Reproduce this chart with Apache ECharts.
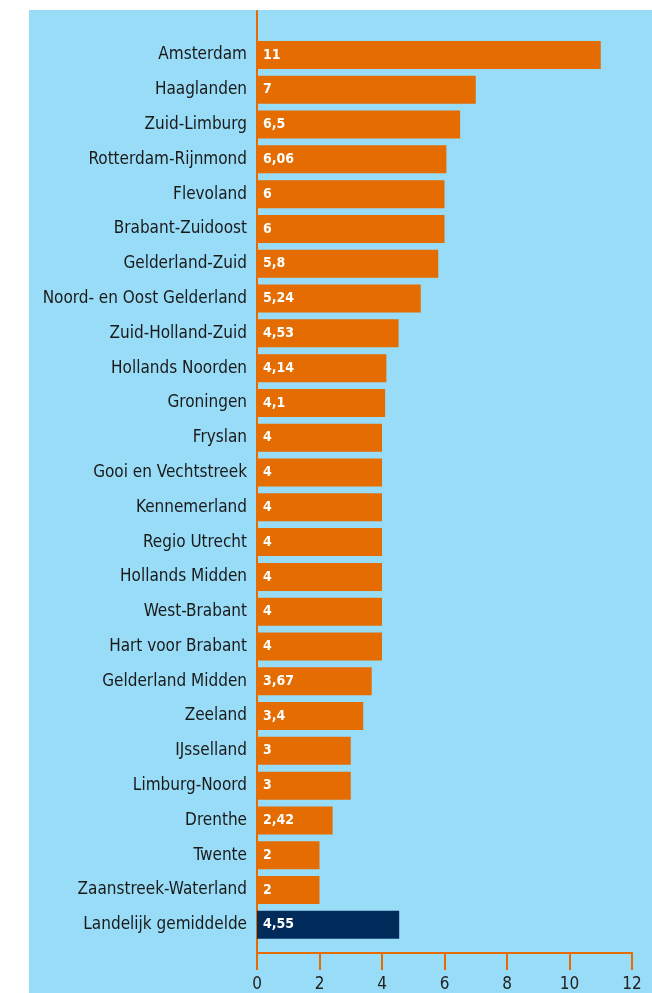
<!DOCTYPE html>
<html>
<head>
<meta charset="utf-8">
<script src="https://cdn.jsdelivr.net/npm/echarts@6/dist/echarts.min.js"></script>
<style>
html,body{margin:0;padding:0;background:#ffffff;width:652px;height:993px;overflow:hidden;}
#chart{position:absolute;left:29px;top:10px;width:623px;height:983px;}
</style>
</head>
<body>
<div id="chart"></div>
<script>
var categories = ["Amsterdam","Haaglanden","Zuid-Limburg","Rotterdam-Rijnmond","Flevoland","Brabant-Zuidoost","Gelderland-Zuid","Noord- en Oost Gelderland","Zuid-Holland-Zuid","Hollands Noorden","Groningen","Fryslan","Gooi en Vechtstreek","Kennemerland","Regio Utrecht","Hollands Midden","West-Brabant","Hart voor Brabant","Gelderland Midden","Zeeland","IJsselland","Limburg-Noord","Drenthe","Twente","Zaanstreek-Waterland","Landelijk gemiddelde"];
var values = [11,7,6.5,6.06,6,6,5.8,5.24,4.53,4.14,4.1,4,4,4,4,4,4,4,3.67,3.4,3,3,2.42,2,2,4.55];
var xTicks = [0,2,4,6,8,10,12];

var orange = '#E46C00';
var navy = '#002B5B';
var fontFam = '"DejaVu Sans Condensed", "DejaVu Sans", sans-serif';

var chart = echarts.init(document.getElementById('chart'));
var data = values.map(function(v, i){
  return i === values.length - 1 ? {value: v, itemStyle: {color: navy}} : v;
});
chart.setOption({
  backgroundColor: '#98DCF7',
  animation: false,
  grid: [
    {left: 228, right: 20, top: 27.6, bottom: 50.8},
    {left: 228, right: 20, top: 1, bottom: 40}
  ],
  xAxis: [
    {gridIndex: 0, type: 'value', min: 0, max: 12, interval: 2, show: false},
    {gridIndex: 1, type: 'value', min: xTicks[0], max: xTicks[xTicks.length-1], interval: 2,
     axisLine: {show: true, lineStyle: {color: orange, width: 2}},
     axisTick: {show: true, length: 17, lineStyle: {color: orange, width: 2}},
     axisLabel: {color: '#222', fontSize: 17, fontFamily: fontFam, margin: 23},
     splitLine: {show: false}}
  ],
  yAxis: [
    {gridIndex: 0, type: 'category', data: categories, inverse: true,
     axisLine: {show: false}, axisTick: {show: false},
     axisLabel: {color: '#1a1a1a', fontSize: 17, fontFamily: fontFam, margin: 10, padding: [4, 0, 0, 0]}},
    {gridIndex: 1, type: 'value', min: 0, max: 1,
     axisLine: {show: true, lineStyle: {color: orange, width: 2}},
     axisTick: {show: false}, axisLabel: {show: false}, splitLine: {show: false}}
  ],
  series: [{
    type: 'bar', xAxisIndex: 0, yAxisIndex: 0,
    data: data, barWidth: 28,
    itemStyle: {color: orange},
    label: {show: true, position: 'insideLeft', distance: 6, color: '#fff',
      fontWeight: 'bold', fontSize: 14, fontFamily: fontFam, padding: [3, 0, 0, 0],
      formatter: function(p){ return String(p.value).replace('.', ','); }}
  }]
});
</script>
</body>
</html>
